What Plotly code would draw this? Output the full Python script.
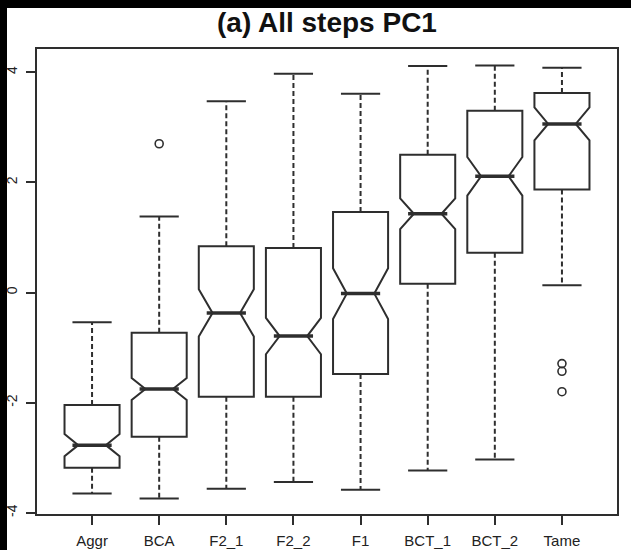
import plotly.graph_objects as go

# ---- data ----
categories = ["Aggr", "BCA", "F2_1", "F2_2", "F1", "BCT_1", "BCT_2", "Tame"]
lower_whisker = [-3.65, -3.74, -3.56, -3.44, -3.58, -3.23, -3.03, 0.13]
q1 = [-3.18, -2.62, -1.89, -1.89, -1.48, 0.16, 0.72, 1.87]
median = [-2.77, -1.75, -0.37, -0.79, -0.02, 1.43, 2.11, 3.06]
q3 = [-2.04, -0.73, 0.84, 0.81, 1.46, 2.50, 3.30, 3.62]
upper_whisker = [-0.54, 1.38, 3.47, 3.97, 3.61, 4.11, 4.12, 4.08]
notch_half = [0.20, 0.20, 0.43, 0.33, 0.46, 0.28, 0.35, 0.30]
outlier_cat = ["BCA", "Tame", "Tame", "Tame"]
outlier_val = [2.70, -1.29, -1.43, -1.80]
y_tickvals = [-4, -2, 0, 2, 4]
y_ticktext = ["-4", "-2", "0", "2", "4"]
title_text = "<b>(a) All steps PC1</b>"

# ---- layout constants ----
W, H = 631, 550
ML, MR, MT, MB = 37, 14, 49, 36
LINE = "#2e2e2e"
FONT = "Liberation Sans, Arial, sans-serif"

pos = list(range(1, len(categories) + 1))
cat_pos = dict(zip(categories, pos))

fig = go.Figure()

# dashed whiskers
wx, wy = [], []
for p, lo, a, b, hi in zip(pos, lower_whisker, q1, q3, upper_whisker):
    wx += [p, p, None, p, p, None]
    wy += [a, lo, None, b, hi, None]
fig.add_trace(go.Scatter(x=wx, y=wy, mode="lines",
                         line=dict(color=LINE, width=2, dash="5px,3px"),
                         hoverinfo="skip", showlegend=False))

# whisker caps
fig.add_trace(go.Scatter(x=pos + pos, y=lower_whisker + upper_whisker, mode="markers",
                         marker=dict(symbol="line-ew-open", size=28, color=LINE,
                                     line=dict(color=LINE, width=2)),
                         hoverinfo="skip", showlegend=False))

# notched boxes
fig.add_trace(go.Box(x=pos, q1=q1, median=median, q3=q3,
                     lowerfence=q1, upperfence=q3,
                     notched=True, notchspan=notch_half, notchwidth=0.25,
                     width=0.82, whiskerwidth=0,
                     fillcolor="white", line=dict(color=LINE, width=2),
                     boxpoints=False, showlegend=False))

# thick medians
fig.add_trace(go.Scatter(x=pos, y=median, mode="markers",
                         marker=dict(symbol="line-ew-open", size=28, color=LINE,
                                     line=dict(color=LINE, width=3.5)),
                         hoverinfo="skip", showlegend=False))

# outliers
fig.add_trace(go.Scatter(x=[cat_pos[c] for c in outlier_cat], y=outlier_val, mode="markers",
                         marker=dict(symbol="circle-open", size=8, color=LINE,
                                     line=dict(color=LINE, width=1.6)),
                         hoverinfo="skip", showlegend=False))

pw = W - ML - MR
ph = H - MT - MB
TOP_BAND, LEFT_BAND = 8, 7
# page is black; a white sheet leaves black strips at the left and top edges
shapes = [
    dict(type="rect", xref="paper", yref="paper", line_width=0, fillcolor="white",
         layer="below",
         x0=(LEFT_BAND - ML) / pw, x1=1 + MR / pw,
         y0=-MB / ph, y1=1 + (MT - TOP_BAND) / ph),
]

fig.update_layout(
    width=W, height=H,
    margin=dict(l=ML, r=MR, t=MT, b=MB, pad=0, autoexpand=False),
    paper_bgcolor="black", plot_bgcolor="white",
    font=dict(family=FONT, color="#222", size=14),
    title=dict(text=title_text, x=0.5, xref="paper", xanchor="center",
               y=1 - 22 / H, yref="container", yanchor="middle",
               font=dict(size=28, family=FONT, color="#111")),
    shapes=shapes,
    showlegend=False,
)
fig.update_xaxes(range=[0.18, 8.82], tickvals=pos, ticktext=categories,
                 showgrid=False, zeroline=False, automargin=False,
                 showline=True, mirror=True, linecolor=LINE, linewidth=2,
                 ticks="outside", ticklen=9, tickwidth=1.5, tickcolor=LINE,
                 tickfont=dict(size=15), ticklabelstandoff=3)
fig.update_yaxes(range=[-4.02, 4.42], tickvals=y_tickvals, ticktext=y_ticktext,
                 showgrid=False, zeroline=False, automargin=False,
                 showline=True, mirror=True, linecolor=LINE, linewidth=2,
                 ticks="outside", ticklen=9, tickwidth=1.5, tickcolor=LINE,
                 tickangle=-90, tickfont=dict(size=14), ticklabelstandoff=3)

fig.write_html("out.html")
